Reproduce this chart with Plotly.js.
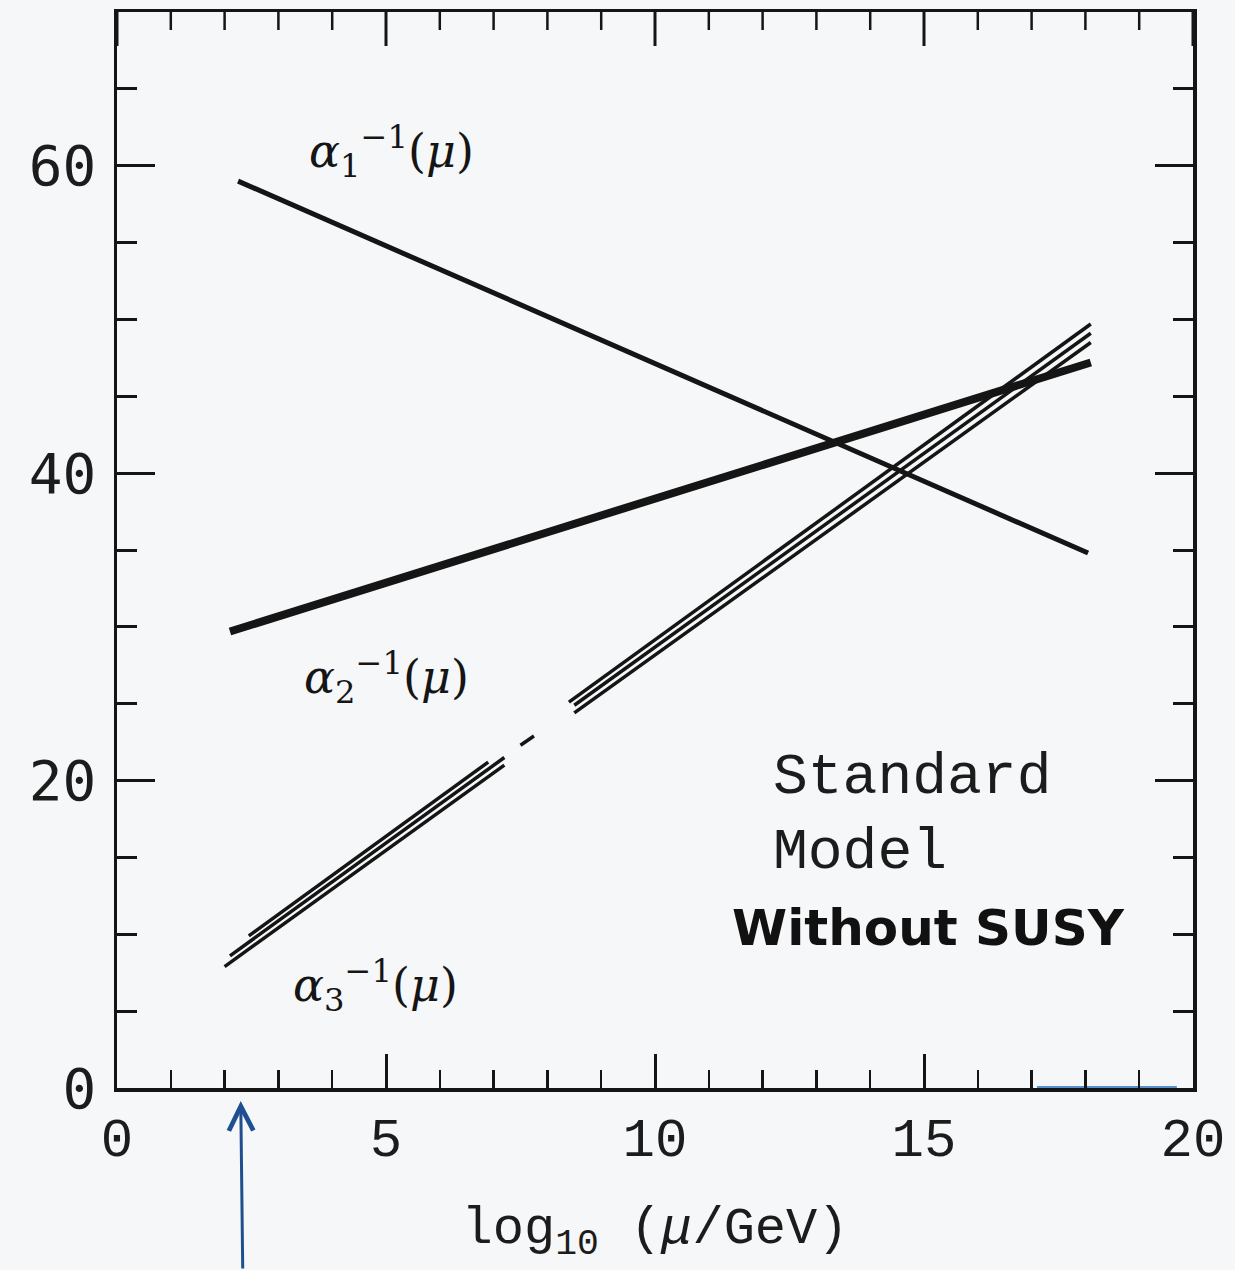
<!DOCTYPE html>
<html>
<head>
<meta charset="utf-8">
<script src="https://cdn.plot.ly/plotly-3.0.1.min.js"></script>
<style>html,body{margin:0;padding:0;background:#f6f7f8;}#chart{width:1235px;height:1270px;}</style>
</head>
<body>
<div id="chart"></div>
<script>
// ---- data ----
const xTickVals = [0, 5, 10, 15, 20];
const yTickVals = [0, 20, 40, 60];

// alpha_1^{-1}
const a1X = [2.25, 18.05];
const a1Y = [59.0, 34.8];

// alpha_2^{-1}
const a2X = [2.1, 18.1];
const a2Y = [29.7, 47.2];

// alpha_3^{-1} : three parallel lines (band), with gaps
const a3UpperX = [2.45, 6.9, null, 8.4, 18.1];
const a3UpperY = [9.9, 21.2, null, 25.1, 49.7];
const a3MidX = [2.1, 7.2, null, 7.5, 7.75, null, 8.5, 18.1];
const a3MidY = [8.6, 21.5, null, 22.3, 22.9, null, 24.9, 49.1];
const a3LowX = [2.0, 7.2, null, 8.5, 18.1];
const a3LowY = [7.9, 21.0, null, 24.4, 48.5];

// blue pen marks under the x axis
const bluePenX = [17.1, 19.7];
const bluePenY = [0, 0];

const ink = '#151515';

const traces = [
  {x: a1X, y: a1Y, mode: 'lines', line: {color: ink, width: 5}, hoverinfo: 'skip'},
  {x: a2X, y: a2Y, mode: 'lines', line: {color: ink, width: 8}, hoverinfo: 'skip'},
  {x: a3UpperX, y: a3UpperY, mode: 'lines', line: {color: ink, width: 3.5}, connectgaps: false, hoverinfo: 'skip'},
  {x: a3MidX, y: a3MidY, mode: 'lines', line: {color: ink, width: 3.5}, connectgaps: false, hoverinfo: 'skip'},
  {x: a3LowX, y: a3LowY, mode: 'lines', line: {color: ink, width: 3.5}, connectgaps: false, hoverinfo: 'skip'},
  {x: bluePenX, y: bluePenY, mode: 'lines', line: {color: 'rgba(40,110,190,0.75)', width: 4}, cliponaxis: false, hoverinfo: 'skip'}
];

// mirrored tick marks along the top frame (derived from the x tick spacing)
const plotH = 1270 - 12 - 182;
const topShapes = [];
for (let v = 0; v <= 20; v += 1) {
  const major = xTickVals.indexOf(v) >= 0;
  const len = major ? 34 : 18;
  topShapes.push({type: 'line', xref: 'x', yref: 'paper', x0: v, x1: v, y0: 1, y1: 1 - len / plotH,
                  line: {color: ink, width: major ? 3 : 2.5}});
}

const mathFont = {family: 'DejaVu Serif', size: 46, color: ink};
const monoFont = {family: 'Liberation Mono', size: 58, color: '#1c1c1c'};

const layout = {
  width: 1235, height: 1270,
  margin: {l: 117, r: 42, t: 12, b: 182},
  paper_bgcolor: '#f6f7f8',
  plot_bgcolor: '#f6f7f8',
  showlegend: false,
  xaxis: {
    range: [0, 20], tickvals: xTickVals, ticktext: xTickVals.map(String),
    ticks: 'inside', ticklen: 34, tickwidth: 3, tickcolor: ink,
    minor: {dtick: 1, ticks: 'inside', ticklen: 18, tickwidth: 2.5, tickcolor: ink},
    showline: true, linewidth: 3.5, linecolor: ink, mirror: true,
    showgrid: false, zeroline: false,
    tickfont: {family: 'Liberation Mono', size: 54, color: '#1c1c1c'},
    ticklabelstandoff: 0,
    title: {text: 'log<sub>10</sub> (<i>μ</i>/GeV)', font: {family: 'Liberation Mono', size: 52, color: '#1c1c1c'}, standoff: 36}
  },
  yaxis: {
    range: [0, 70], tickvals: yTickVals, ticktext: yTickVals.map(String),
    ticks: 'inside', ticklen: 38, tickwidth: 3, tickcolor: ink,
    minor: {dtick: 5, ticks: 'inside', ticklen: 20, tickwidth: 3, tickcolor: ink},
    showline: true, linewidth: 3.5, linecolor: ink, mirror: 'ticks',
    showgrid: false, zeroline: false,
    tickfont: {family: 'DejaVu Sans Mono', size: 56, color: '#1c1c1c'},
    ticklabelstandoff: 6
  },
  shapes: topShapes,
  annotations: [
    {x: 5.1, y: 60.9, xref: 'x', yref: 'y', text: '<i>α</i><sub>1</sub><sup>−1</sup>(<i>μ</i>)', showarrow: false, font: mathFont},
    {x: 5.0, y: 26.7, xref: 'x', yref: 'y', text: '<i>α</i><sub>2</sub><sup>−1</sup>(<i>μ</i>)', showarrow: false, font: mathFont},
    {x: 4.8, y: 6.7, xref: 'x', yref: 'y', text: '<i>α</i><sub>3</sub><sup>−1</sup>(<i>μ</i>)', showarrow: false, font: mathFont},
    {x: 12.15, y: 20.2, xref: 'x', yref: 'y', xanchor: 'left', text: 'Standard', showarrow: false, font: monoFont},
    {x: 12.15, y: 15.3, xref: 'x', yref: 'y', xanchor: 'left', text: 'Model', showarrow: false, font: monoFont},
    {x: 11.4, y: 10.4, xref: 'x', yref: 'y', xanchor: 'left', text: '<b>Without SUSY</b>', showarrow: false,
     font: {family: 'DejaVu Sans', size: 50, color: '#111'}},
    {x: 2.3, y: -0.012, xref: 'x', yref: 'paper', ax: 2, ay: 175, text: '', showarrow: true,
     arrowhead: 5, arrowsize: 1.6, arrowwidth: 3, arrowcolor: '#1f4f8f'}
  ]
};

Plotly.newPlot('chart', traces, layout, {staticPlot: true, displayModeBar: false});
</script>
</body>
</html>
